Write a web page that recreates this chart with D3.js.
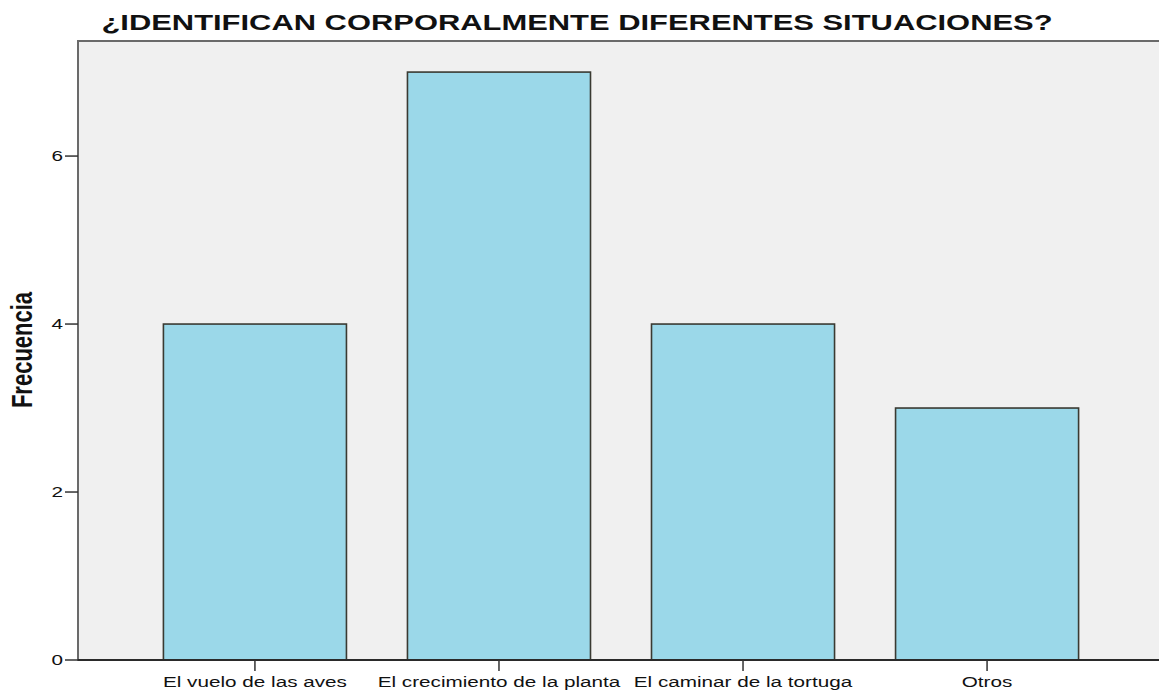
<!DOCTYPE html>
<html>
<head>
<meta charset="utf-8">
<script src="https://cdn.jsdelivr.net/npm/d3@7"></script>
<style>
  body { margin: 0; background: #fff; }
  svg { display: block; font-family: Arial, "Liberation Sans", sans-serif; }
</style>
</head>
<body>
<svg width="1159" height="691"></svg>
<script>
var categories = ["El vuelo de las aves", "El crecimiento de la planta", "El caminar de la tortuga", "Otros"];
var frecuencia = [4, 7, 4, 3];
var yTicks = [0, 2, 4, 6];
var title = "¿IDENTIFICAN CORPORALMENTE DIFERENTES SITUACIONES?";
var yLabel = "Frecuencia";

var svg = d3.select("svg");
var SX = 1.38; // the picture is stretched sideways

var margin = { top: 41, left: 78, bottom: 31 },
    right = 1164,
    bottom = 691 - margin.bottom;

var x = d3.scaleBand()
    .domain(categories)
    .range([margin.left, right])
    .paddingInner(0.25)
    .paddingOuter(0.35);

var y = d3.scaleLinear()
    .domain([0, 7.37])
    .range([bottom, margin.top]);

// plot background
svg.append("rect")
    .attr("x", margin.left)
    .attr("y", margin.top)
    .attr("width", right - margin.left)
    .attr("height", bottom - margin.top)
    .attr("fill", "#f0f0f0")
    .attr("stroke", "#6a6a6a")
    .attr("stroke-width", 2);

// bars
svg.append("g")
    .selectAll("rect")
    .data(frecuencia)
    .enter().append("rect")
        .attr("x", (d, i) => x(categories[i]))
        .attr("y", d => y(d))
        .attr("width", x.bandwidth())
        .attr("height", d => y(0) - y(d))
        .attr("fill", "#9bd8e9")
        .attr("stroke", "#3a3a32")
        .attr("stroke-width", 1.6);

// y axis
var yAxis = svg.append("g");
yAxis.selectAll("line")
    .data(yTicks)
    .enter().append("line")
        .attr("x1", margin.left - 13)
        .attr("x2", margin.left)
        .attr("y1", d => y(d))
        .attr("y2", d => y(d))
        .attr("stroke", "#333")
        .attr("stroke-width", 1.5);
yAxis.selectAll("text")
    .data(yTicks)
    .enter().append("text")
        .attr("transform", d => `translate(${margin.left - 15}, ${y(d) + 5}) scale(${SX},1)`)
        .attr("text-anchor", "end")
        .attr("font-size", 15)
        .attr("fill", "#111")
        .text(d => d);

// x axis
svg.append("line")
    .attr("x1", margin.left)
    .attr("x2", right)
    .attr("y1", bottom)
    .attr("y2", bottom)
    .attr("stroke", "#2a2a2a")
    .attr("stroke-width", 2);

var xAxis = svg.append("g");
xAxis.selectAll("line")
    .data(categories)
    .enter().append("line")
        .attr("x1", d => x(d) + x.bandwidth() / 2)
        .attr("x2", d => x(d) + x.bandwidth() / 2)
        .attr("y1", bottom)
        .attr("y2", bottom + 11)
        .attr("stroke", "#333")
        .attr("stroke-width", 1.5);
xAxis.selectAll("text")
    .data(categories)
    .enter().append("text")
        .attr("transform", d => `translate(${x(d) + x.bandwidth() / 2}, ${bottom + 27}) scale(${SX},1)`)
        .attr("text-anchor", "middle")
        .attr("font-size", 15)
        .attr("fill", "#111")
        .text(d => d);

// title
svg.append("text")
    .attr("transform", `translate(577, 30) scale(${SX},1)`)
    .attr("text-anchor", "middle")
    .attr("font-size", 22.4)
    .attr("font-weight", "bold")
    .attr("fill", "#111")
    .text(title);

// y label
svg.append("text")
    .attr("transform", `translate(32, 350) scale(${SX},1) rotate(-90)`)
    .attr("text-anchor", "middle")
    .attr("font-size", 22)
    .attr("font-weight", "bold")
    .attr("fill", "#111")
    .text(yLabel);
</script>
</body>
</html>
